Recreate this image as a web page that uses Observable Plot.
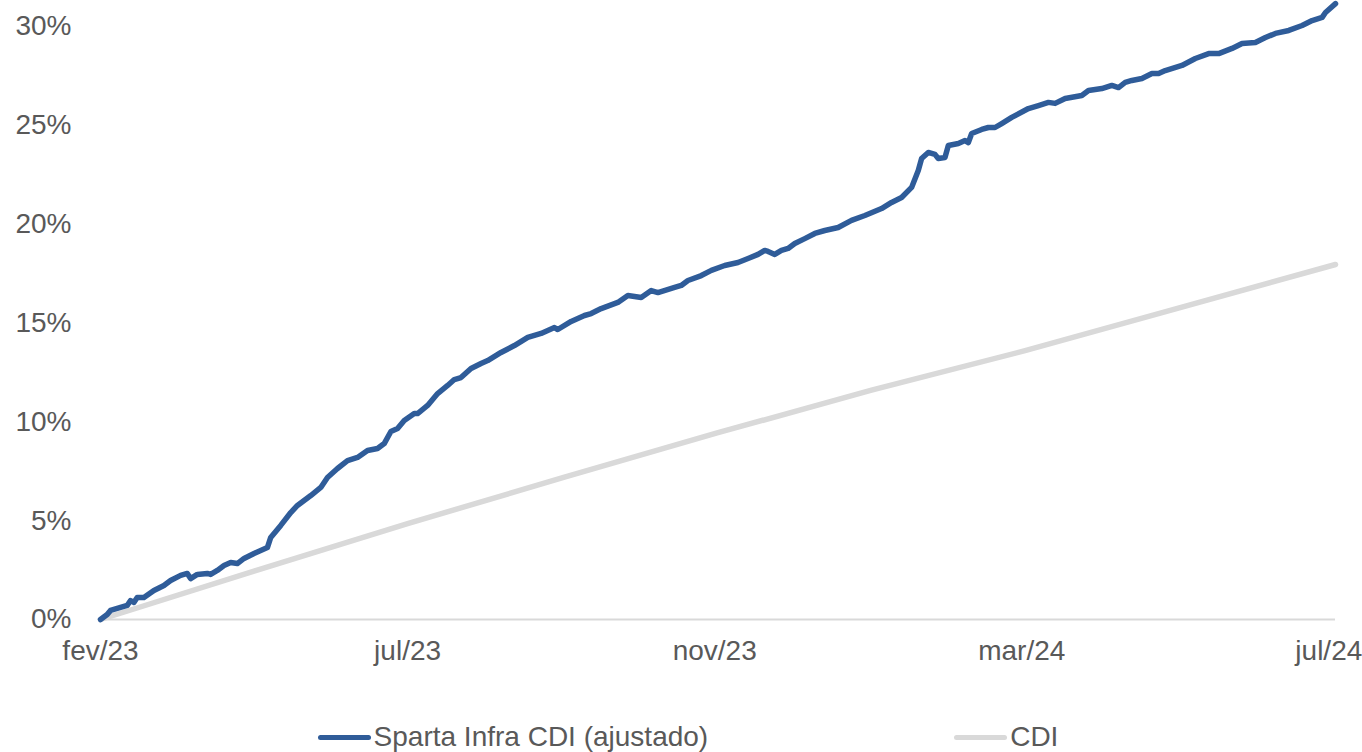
<!DOCTYPE html>
<html>
<head>
<meta charset="utf-8">
<script src="https://cdn.jsdelivr.net/npm/d3@7"></script>
<script src="https://cdn.jsdelivr.net/npm/@observablehq/plot@0.6"></script>
<style>
  body { margin: 0; background: #fff; font-family: "Liberation Sans", Arial, sans-serif; }
  #chart svg { display: block; }
  .legend { display: flex; justify-content: center; gap: 246px; margin-top: 42px; padding-left: 14px; font-size: 28px; color: #595959; line-height: 30px; }
  .item { display: flex; align-items: center; }
  .sw { width: 53px; height: 5px; border-radius: 3px; margin-right: 3px; }
</style>
</head>
<body>
<div id="chart"></div>
<div class="legend">
  <div class="item"><span class="sw" style="background:#2F5C99"></span>Sparta Infra CDI (ajustado)</div>
  <div class="item"><span class="sw" style="background:#D9D9D9"></span>CDI</div>
</div>
<script>
// observation index (business-day sequence) and cumulative return (%)
const spartaIdx = [0,2,3,6,8,9,10,11,13,16,19,21,24,26,27,29,32,33,35,37,39,41,43,46,48,50,51,54,57,59,63,66,68,71,74,77,80,83,85,87,89,91,94,95,98,101,104,106,108,111,114,116,120,124,128,132,136,137,141,145,147,150,155,158,162,165,167,172,174,176,180,183,187,191,194,197,199,200,202,204,206,208,211,214,217,221,225,229,234,237,240,243,245,246,248,250,251,253,254,257,259,260,261,264,266,268,270,273,278,281,284,286,289,294,296,300,303,305,307,309,312,315,317,319,324,328,332,335,339,342,346,349,352,356,360,363,366,367,370];
const spartaVal = [0.00,0.25,0.46,0.61,0.71,0.96,0.86,1.11,1.11,1.47,1.72,1.97,2.23,2.33,2.07,2.28,2.33,2.28,2.48,2.73,2.88,2.83,3.09,3.34,3.49,3.64,4.15,4.76,5.41,5.77,6.27,6.68,7.18,7.64,8.04,8.20,8.55,8.65,8.90,9.51,9.66,10.07,10.42,10.42,10.83,11.43,11.84,12.14,12.24,12.70,12.95,13.10,13.51,13.86,14.27,14.47,14.77,14.67,15.08,15.38,15.48,15.73,16.04,16.39,16.29,16.64,16.54,16.80,16.90,17.15,17.40,17.66,17.91,18.06,18.26,18.47,18.67,18.62,18.47,18.67,18.77,19.02,19.27,19.53,19.68,19.83,20.19,20.44,20.79,21.10,21.35,21.86,22.71,23.32,23.63,23.53,23.32,23.37,23.98,24.08,24.23,24.13,24.59,24.79,24.89,24.89,25.09,25.40,25.85,26.00,26.16,26.11,26.36,26.51,26.76,26.86,27.02,26.91,27.17,27.27,27.37,27.62,27.62,27.77,28.03,28.38,28.63,28.63,28.89,29.14,29.19,29.44,29.65,29.80,30.05,30.30,30.46,30.71,31.16];
const cdiIdx = [0,46,92,139,185,231,277,324,370];
const cdiVal = [0,2.45,4.85,7.2,9.45,11.6,13.6,15.8,17.96];
const tickIdx = [0,92,184,276,368];
const tickLabels = ["fev/23","jul/23","nov/23","mar/24","jul/24"];
const yTicks = [0,5,10,15,20,25,30];

const sparta = spartaIdx.map((x,i)=>({x, y: spartaVal[i]}));
const cdi = cdiIdx.map((x,i)=>({x, y: cdiVal[i]}));

const chart = Plot.plot({
  width: 1362,
  height: 680,
  marginLeft: 100,
  marginRight: 27,
  marginTop: 26,
  marginBottom: 61,
  style: {fontFamily: '"Liberation Sans", Arial, sans-serif', fontSize: "28px", color: "#595959", background: "#fff", overflow: "visible"},
  x: {domain: [0, 370], axis: null},
  y: {domain: [0, 30], axis: null},
  marks: [
    Plot.ruleY([0], {stroke: "#D9D9D9", strokeWidth: 2}),
    Plot.axisY(yTicks, {tickSize: 0, tickPadding: 29, tickFormat: d => d + "%", fill: "#595959", label: null}),
    Plot.axisX(tickIdx, {tickSize: 0, tickPadding: 21, tickFormat: d => tickLabels[tickIdx.indexOf(d)], fill: "#595959", label: null}),
    Plot.line(cdi, {x: "x", y: "y", stroke: "#D9D9D9", strokeWidth: 5.5, strokeLinecap: "round", strokeLinejoin: "round"}),
    Plot.line(sparta, {x: "x", y: "y", stroke: "#2F5C99", strokeWidth: 5.5, strokeLinecap: "round", strokeLinejoin: "round"})
  ]
});
document.getElementById("chart").appendChild(chart);
</script>
</body>
</html>
